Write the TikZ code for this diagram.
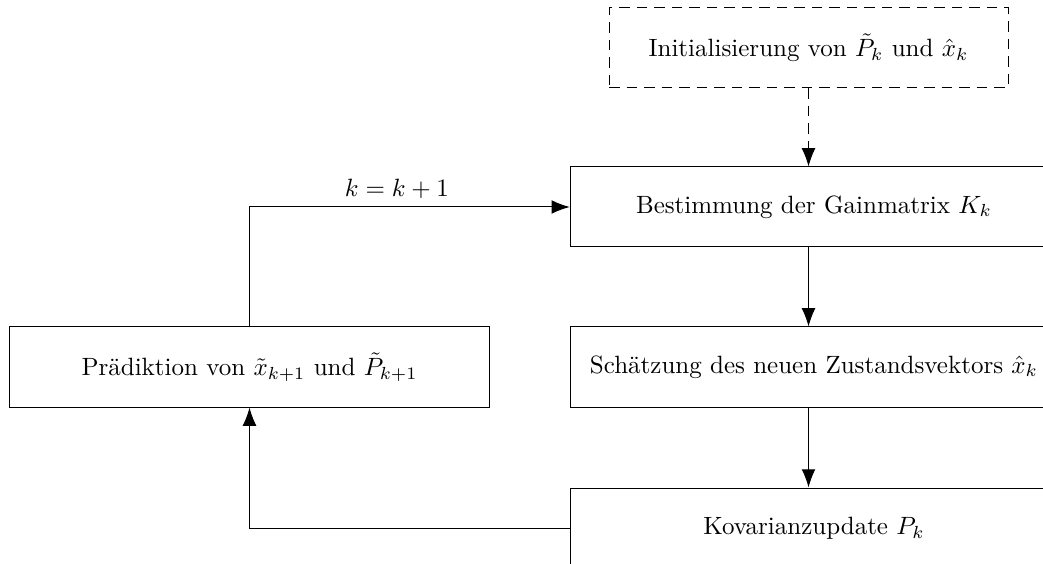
\documentclass[tikz,border=0pt]{standalone}
\usepackage{amsmath}
\usepackage{amssymb}
\usetikzlibrary{arrows.meta}

\tikzset{
  block/.style={draw,rectangle,minimum width=195pt,minimum height=32pt,inner sep=0pt},
  initblock/.style={draw,dash pattern=on 4.2pt off 2.8pt,rectangle,minimum width=159.6pt,minimum height=32pt,inner sep=0pt},
}

\begin{document}
\begin{tikzpicture}[x=0.4pt,y=-0.4pt,>={Latex[length=7.3pt,width=5.5pt]}]
  \useasboundingbox (0,0) rectangle (1043,564);
  \clip (0,0) rectangle (1043,564);
  % Kalman-Zyklus
  \node[initblock] (init) at (808.5,48) {Initialisierung von $\tilde{P}_k$ und $\hat{x}_k$};
  \node[block] (gain) at (814,207) {Bestimmung der Gainmatrix $K_k$};
  \node[block] (est) at (814,367) {Sch\"atzung des neuen Zustandsvektors $\hat{x}_k$};
  \node[block] (cov) at (814,528) {Kovarianzupdate $P_k$};
  \node[block,minimum width=191.6pt] (pred) at (249.5,367) {Pr\"adiktion von $\tilde{x}_{k+1}$ und $\tilde{P}_{k+1}$};
  \draw[->,dash pattern=on 4.2pt off 2.8pt] (init.south) -- (init.south |- gain.north);
  \draw[->] (init.south |- gain.south) -- (init.south |- est.north);
  \draw[->] (init.south |- est.south) -- (init.south |- cov.north);
  \draw[->] (cov.west) -| (pred.south);
  \draw[->] (pred.north) |- node[pos=0.73,above] {$k=k+1$} (gain.west);
\end{tikzpicture}
\end{document}
